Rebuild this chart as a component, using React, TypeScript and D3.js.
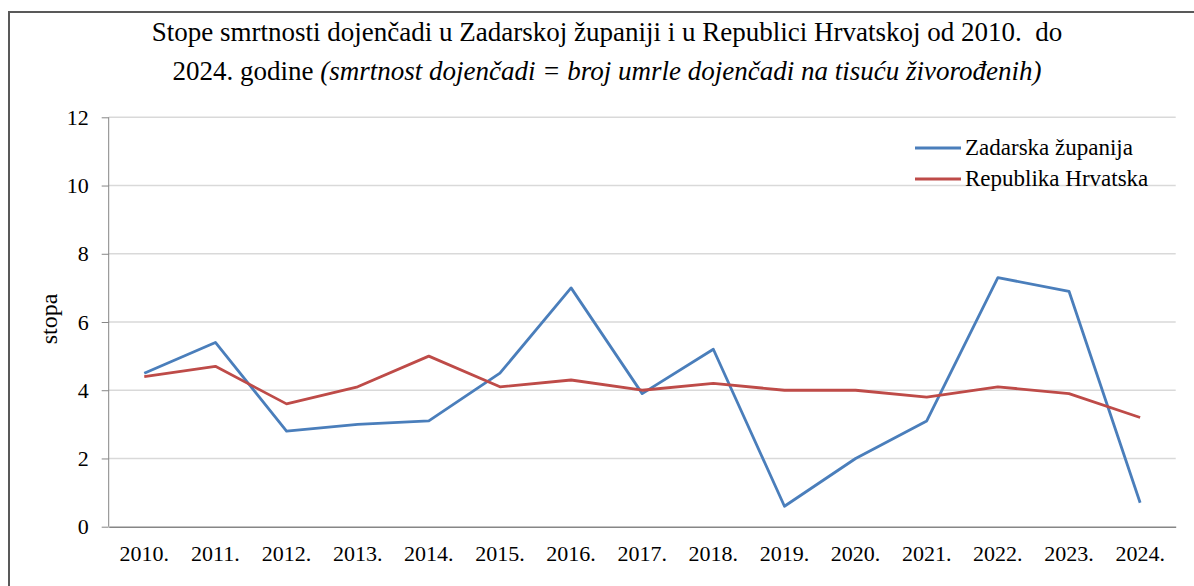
import React, { useEffect, useRef } from 'react';
import * as d3 from 'd3';

const years = ['2010.', '2011.', '2012.', '2013.', '2014.', '2015.', '2016.', '2017.', '2018.', '2019.', '2020.', '2021.', '2022.', '2023.', '2024.'];
const zadar = [4.5, 5.4, 2.8, 3.0, 3.1, 4.5, 7.0, 3.9, 5.2, 0.6, 2.0, 3.1, 7.3, 6.9, 0.7];
const hrvatska = [4.4, 4.7, 3.6, 4.1, 5.0, 4.1, 4.3, 4.0, 4.2, 4.0, 4.0, 3.8, 4.1, 3.9, 3.2];
const seriesNames = ['Zadarska županija', 'Republika Hrvatska'];
const seriesColors = ['#4a7ebb', '#be4b48'];
const yTicks = [0, 2, 4, 6, 8, 10, 12];

const App = () => {
  const ref = useRef<SVGSVGElement>(null);

  useEffect(() => {
    const svg = d3.select(ref.current);
    svg.selectAll('*').remove();

    const font = '"Liberation Serif", "Times New Roman", serif';
    const left = 108.7, right = 1175.7, top = 117.3, bottom = 526.7;

    // outer frame
    svg.append('path')
      .attr('d', 'M9,600 L9,12 L1200,12')
      .attr('fill', 'none')
      .attr('stroke', '#595959')
      .attr('stroke-width', 2);

    const x = d3.scaleBand().domain(years).range([left, right]);
    const y = d3.scaleLinear().domain([0, 12]).range([bottom, top]);

    // gridlines
    svg.append('g')
      .selectAll('line')
      .data(yTicks.filter((t) => t > 0))
      .enter()
      .append('line')
      .attr('x1', left)
      .attr('x2', right)
      .attr('y1', (d) => y(d))
      .attr('y2', (d) => y(d))
      .attr('stroke', '#d9d9d9')
      .attr('stroke-width', 1.5);

    // y axis
    const yAxis = svg.append('g')
      .attr('transform', `translate(${left},0)`)
      .call(d3.axisLeft(y).tickValues(yTicks).tickSize(7).tickPadding(13).tickFormat(d3.format('d')));
    yAxis.select('.domain').attr('stroke', '#868686').attr('d', `M0,${top}V${bottom}`);
    yAxis.selectAll('.tick line').attr('stroke', '#868686');
    yAxis.selectAll('.tick text')
      .attr('font-family', font)
      .attr('font-size', 22)
      .attr('fill', '#000');

    // x axis
    const xAxis = svg.append('g')
      .attr('transform', `translate(0,${bottom})`)
      .call(d3.axisBottom(x).tickSize(0).tickPadding(19));
    xAxis.select('.domain').attr('stroke', '#868686').attr('stroke-width', 1.5);
    xAxis.selectAll('.tick text')
      .attr('font-family', font)
      .attr('font-size', 22)
      .attr('fill', '#000');

    // lines
    const line = d3.line<number>()
      .x((_, i) => (x(years[i]) as number) + x.bandwidth() / 2)
      .y((d) => y(d));

    [zadar, hrvatska].forEach((data, i) => {
      svg.append('path')
        .datum(data)
        .attr('d', line)
        .attr('fill', 'none')
        .attr('stroke', seriesColors[i])
        .attr('stroke-width', 2.8)
        .attr('stroke-linejoin', 'round');
    });

    // legend
    seriesNames.forEach((name, i) => {
      const ly = 148 + i * 31;
      svg.append('line')
        .attr('x1', 915)
        .attr('x2', 961)
        .attr('y1', ly)
        .attr('y2', ly)
        .attr('stroke', seriesColors[i])
        .attr('stroke-width', 2.8);
      svg.append('text')
        .attr('x', 965)
        .attr('y', ly + 7)
        .attr('font-family', font)
        .attr('font-size', 23)
        .text(name);
    });

    // y label
    svg.append('text')
      .attr('transform', 'translate(57,319) rotate(-90)')
      .attr('text-anchor', 'middle')
      .attr('font-family', font)
      .attr('font-size', 24)
      .text('stopa');

    // title
    svg.append('text')
      .attr('x', 607)
      .attr('y', 41)
      .attr('text-anchor', 'middle')
      .attr('font-family', font)
      .attr('font-size', 27)
      .style('white-space', 'pre')
      .text('Stope smrtnosti dojenčadi u Zadarskoj županiji i u Republici Hrvatskoj od 2010.  do');

    const t2 = svg.append('text')
      .attr('x', 607)
      .attr('y', 80)
      .attr('text-anchor', 'middle')
      .attr('font-family', font)
      .attr('font-size', 27);
    t2.append('tspan').text('2024. godine ');
    t2.append('tspan')
      .attr('font-style', 'italic')
      .text('(smrtnost dojenčadi = broj umrle dojenčadi na tisuću živorođenih)');
  }, []);

  return (
    <svg ref={ref} width={1194} height={586} style={{ position: 'absolute', left: 0, top: 0, background: '#fff' }} />
  );
};

export default App;
